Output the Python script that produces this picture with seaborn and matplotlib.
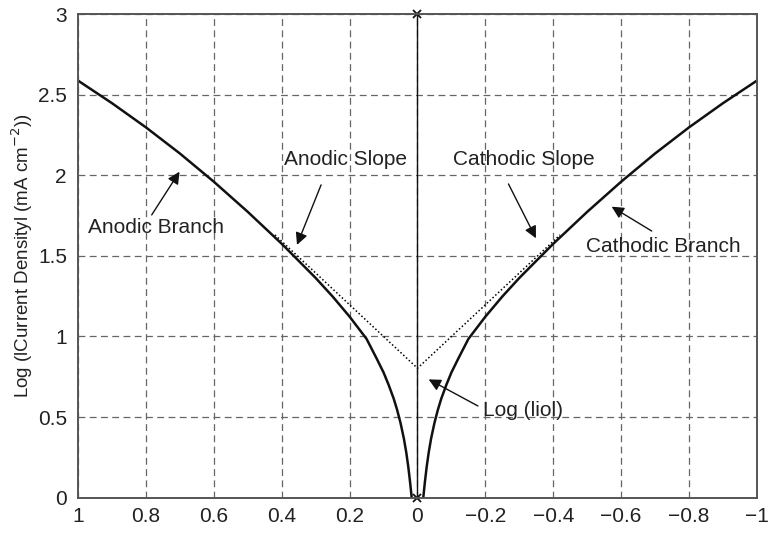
import matplotlib
matplotlib.use("Agg")
import matplotlib.pyplot as plt
import seaborn as sns
import pandas as pd

# ---- data ----
anodic_x = [1.0, 0.9, 0.8, 0.7, 0.6, 0.5, 0.4, 0.3, 0.25, 0.2, 0.15, 0.12, 0.1,
            0.085, 0.07, 0.06, 0.05, 0.04, 0.033, 0.027, 0.022, 0.019, 0.017]
anodic_y = [2.587, 2.447, 2.297, 2.135, 1.96, 1.773, 1.575, 1.363, 1.248, 1.123, 0.985,
            0.862, 0.777, 0.70, 0.614, 0.545, 0.464, 0.366, 0.28, 0.19, 0.10, 0.04, 0.0]
cathodic_x = [-0.017, -0.019, -0.022, -0.027, -0.033, -0.04, -0.05, -0.06, -0.07,
              -0.085, -0.1, -0.12, -0.15, -0.2, -0.25, -0.3, -0.4, -0.5, -0.6, -0.7,
              -0.8, -0.9, -1.0]
cathodic_y = [0.0, 0.04, 0.10, 0.19, 0.28, 0.366, 0.464, 0.545, 0.614,
              0.70, 0.777, 0.862, 0.985, 1.123, 1.248, 1.363, 1.575, 1.773, 1.96, 2.135,
              2.297, 2.447, 2.587]
slope_x = [0.42, 0.0, -0.42]
slope_y = [1.63, 0.803, 1.63]
zero_x = [0.0, 0.0]
zero_y = [0.0, 3.0]
xticks = [1, 0.8, 0.6, 0.4, 0.2, 0, -0.2, -0.4, -0.6, -0.8, -1]
yticks = [0, 0.5, 1, 1.5, 2, 2.5, 3]

sns.set_style("white")
plt.rcParams['font.family'] = ['Liberation Sans', 'DejaVu Sans']

fig = plt.figure(figsize=(7.68, 5.35), dpi=100)
ax = fig.add_axes([0.1016, 0.0697, 0.884, 0.9041])

df_a = pd.DataFrame({'x': anodic_x, 'y': anodic_y})
df_c = pd.DataFrame({'x': cathodic_x, 'y': cathodic_y})
df_s = pd.DataFrame({'x': slope_x, 'y': slope_y})
df_z = pd.DataFrame({'x': zero_x, 'y': zero_y})

sns.lineplot(data=df_s, x='x', y='y', ax=ax, sort=False, estimator=None,
             color='black', lw=1.1, linestyle=(0, (1, 1.5)))
sns.lineplot(data=df_a, x='x', y='y', ax=ax, sort=False, estimator=None,
             color='#111111', lw=1.8)
sns.lineplot(data=df_c, x='x', y='y', ax=ax, sort=False, estimator=None,
             color='#111111', lw=1.8)
sns.lineplot(data=df_z, x='x', y='y', ax=ax, sort=False, estimator=None,
             color='#111111', lw=1.0, marker='x', markersize=6,
             markeredgewidth=1.3, markeredgecolor='#111111', clip_on=False)

ax.set_xlim(1, -1)
ax.set_ylim(0, 3)
ax.set_xticks(xticks)
ax.set_xticklabels([f"{t:g}".replace('-', '\u2212') for t in xticks])
ax.set_yticks(yticks)
ax.set_yticklabels([f"{t:g}" for t in yticks])
ax.tick_params(direction='in', length=4, width=1, colors='#333333',
               labelsize=15, labelcolor='#222222')
ax.tick_params(axis='x', pad=6.5)
ax.tick_params(axis='y', pad=8)
ax.grid(True, linestyle=(0, (5.5, 3.5)), color='#666666', lw=0.9)
for s in ax.spines.values():
    s.set_color('#555555')
    s.set_linewidth(1.4)
    s.set_visible(True)

ax.set_xlabel('')
ax.set_ylabel('Log (lCurrent Densityl (mA cm$^{-2}$))', fontsize=13.5,
              color='#222222', labelpad=2)

ap = dict(arrowstyle='-|>', color='#111111', lw=1.0, mutation_scale=18,
          shrinkA=0, shrinkB=0)
tk = dict(fontsize=15, color='#222222', ha='center', va='center')
ax.annotate('', xy=(0.701, 2.022), xytext=(0.783, 1.754), arrowprops=ap)
ax.text(0.771, 1.673, 'Anodic Branch', **tk)
ax.annotate('', xy=(0.355, 1.568), xytext=(0.284, 1.94), arrowprops=ap)
ax.text(0.211, 2.10, 'Anodic Slope', **tk)
ax.annotate('', xy=(-0.349, 1.609), xytext=(-0.268, 1.946), arrowprops=ap)
ax.text(-0.314, 2.095, 'Cathodic Slope', **tk)
ax.annotate('', xy=(-0.572, 1.805), xytext=(-0.690, 1.654), arrowprops=ap)
ax.text(-0.724, 1.557, 'Cathodic Branch', **tk)
ax.annotate('', xy=(-0.033, 0.734), xytext=(-0.178, 0.569), arrowprops=ap)
ax.text(-0.312, 0.544, 'Log (liol)', **tk)

fig.savefig('out.png', dpi=100)
